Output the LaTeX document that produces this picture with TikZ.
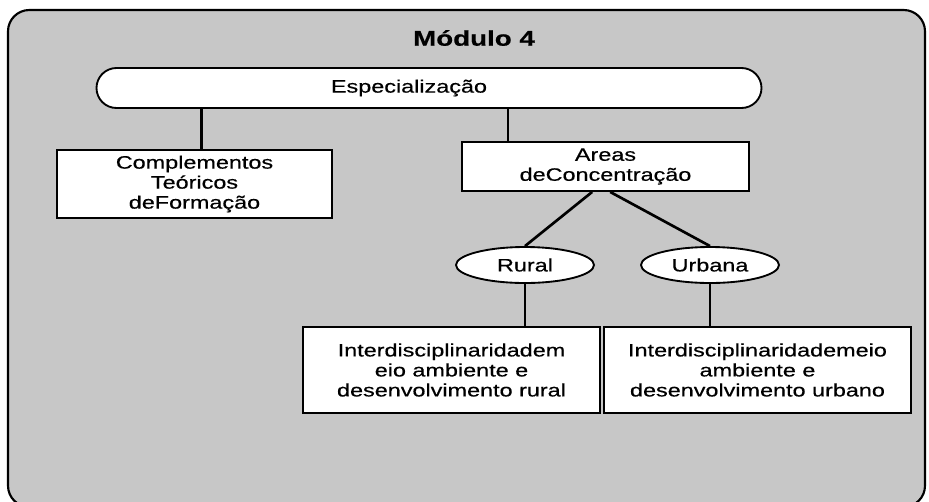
\documentclass[tikz,border=0pt]{standalone}
\usepackage{fontspec}
\setmainfont{Liberation Sans}[FakeStretch=1.3, FakeBold=0.5]
\usetikzlibrary{shapes.geometric}

\tikzset{
  caixa/.style={draw, line width=1.4pt, fill=white, align=center,
    font=\fontsize{13.5}{15}\selectfont, inner sep=0pt},
  oval/.style={caixa, ellipse},
  ramo/.style={line width=2pt},
}

\begin{document}
\begin{tikzpicture}[x=0.75pt, y=-0.75pt]
    \useasboundingbox (0,0) rectangle (929,501);
    \fill [white] (0,0) rectangle (929,501);
    \draw [line width=1.6pt, fill=black!22, rounded corners=16pt] (8,10) rectangle (925,507);

    \node [font=\bfseries\fontsize{16}{18}\selectfont] (titulo) at (474,38) {Módulo 4};

    \node [caixa, rounded corners=15pt, minimum width=498.75pt, minimum height=30pt] (espec) at (429,88) {Especialização\hspace*{30pt}};

    \node [caixa, minimum width=206.25pt, minimum height=51pt] (compl) at (194.5,184) {Complementos\\Teóricos\\deFormação};
    \node [caixa, minimum width=215.25pt, minimum height=36.75pt] (areas) at (605.5,166.5) {Areas\\deConcentração};

    \node [oval, minimum width=103.5pt, minimum height=27pt] (rural) at (525,265) {Rural};
    \node [oval, minimum width=103.5pt, minimum height=27pt] (urbana) at (710,265) {Urbana};

    \node [caixa, minimum width=222.75pt, minimum height=64.5pt] (ruralbox) at (451.5,370) {Interdisciplinaridadem\\eio ambiente e\\desenvolvimento rural};
    \node [caixa, minimum width=230.25pt, minimum height=64.5pt] (urbbox) at (757.5,370) {Interdisciplinaridademeio\\ambiente e\\desenvolvimento urbano};

    % ligacoes
    \coordinate (cj) at ([xshift=5pt]compl.north);
    \coordinate (aj) at ([xshift=35.25pt]areas.north west);
    \draw [ramo] (cj) -- (cj |- espec.south);
    \draw [ramo] (aj) -- (aj |- espec.south);
    \draw [ramo] ([xshift=-10pt]areas.south) -- (rural.north);
    \draw [ramo] ([xshift=3.5pt]areas.south) -- (urbana.north);
    \draw [ramo] (rural.south) -- (rural.south |- ruralbox.north);
    \draw [ramo] (urbana.south) -- (urbana.south |- urbbox.north);
\end{tikzpicture}
\end{document}
